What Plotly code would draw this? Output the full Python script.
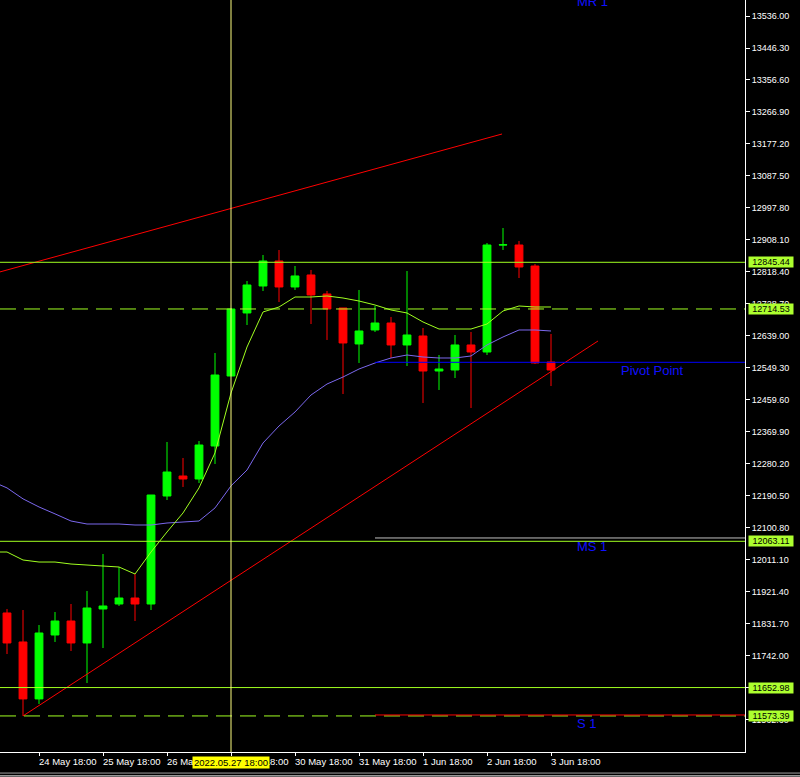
import plotly.graph_objects as go

# H4-style candles, x = bar index
bar_idx = list(range(35))
opens = [11862.1, 11780.8, 11621.1, 11800.4, 11839.6, 11778.0, 11873.3, 11887.3, 11904.1, 11887.3,
         12190.1, 12246.2, 12237.8, 12330.3, 12526.6, 12703.3, 12779.0, 12849.1, 12776.2, 12809.9,
         12756.6, 12717.3, 12616.4, 12655.6, 12675.2, 12613.6, 12638.8, 12540.6, 12543.4, 12613.6,
         12593.9, 12893.9, 12893.9, 12835.0, 12565.9]
highs = [11873.3, 11870.4, 11828.4, 11864.8, 11887.3, 11923.8, 12027.5, 11991.0, 11971.4, 12192.9,
         12341.5, 12296.7, 12344.3, 12591.1, 12714.5, 12793.0, 12865.9, 12879.9, 12835.0, 12823.9,
         12765.0, 12717.3, 12767.8, 12722.9, 12692.1, 12821.0, 12661.2, 12585.5, 12641.6, 12650.0,
         12899.5, 12941.6, 12905.2, 12840.6, 12644.4]
lows = [11747.1, 11573.4, 11607.0, 11780.8, 11755.5, 11665.8, 11763.9, 11881.7, 11839.6, 11870.4,
        12178.9, 12215.4, 12226.6, 12279.9, 12526.6, 12669.6, 12764.9, 12734.1, 12767.8, 12672.4,
        12627.6, 12476.1, 12563.1, 12650.0, 12577.1, 12554.6, 12450.9, 12487.4, 12521.0, 12436.9,
        12585.5, 12880.0, 12801.4, 12560.3, 12498.5]
closes = [11778.0, 11621.1, 11806.0, 11839.6, 11778.0, 11876.1, 11881.7, 11904.1, 11887.3, 12192.9,
          12257.4, 12237.8, 12333.1, 12529.4, 12714.5, 12781.8, 12849.1, 12776.2, 12807.1, 12753.8,
          12714.5, 12619.2, 12652.8, 12675.2, 12613.6, 12641.6, 12540.6, 12546.2, 12613.6, 12593.9,
          12893.9, 12894.5, 12832.2, 12563.1, 12543.4]

# moving averages (start one bar left of the screen)
ma_idx = list(range(-1, 35))
ma_fast = [12033.1, 12033.1, 12010.7, 12005.0, 12005.0, 11999.4, 11996.6, 11993.8, 11991.0, 11971.4,
           12033.1, 12089.2, 12142.5, 12212.8, 12311.0, 12478.9, 12607.9, 12706.1, 12720.1, 12748.1,
           12748.1, 12751.0, 12745.3, 12736.9, 12725.7, 12711.7, 12703.3, 12678.1, 12658.4, 12658.4,
           12658.4, 12672.4, 12708.9, 12722.9, 12720.1, 12720.1]
ma_slow = [12232.2, 12212.8, 12182.1, 12159.4, 12140.0, 12120.0, 12111.6, 12111.6, 12111.6, 12108.8,
           12108.8, 12114.4, 12117.2, 12120.0, 12156.6, 12218.5, 12263.0, 12338.7, 12386.4, 12425.7,
           12473.3, 12504.1, 12523.8, 12546.2, 12563.1, 12577.1, 12585.5, 12579.9, 12577.1, 12577.1,
           12582.7, 12613.6, 12636.0, 12655.6, 12655.6, 12652.8]

# trend lines (bar index, price)
upper_trend_x = [-2, 30.94]
upper_trend_y = [12799.2, 13205.2]
lower_trend_x = [1, 36.94]
lower_trend_y = [11573.4, 12624.8]

# horizontal levels
solid_levels = [12845.44, 12063.11, 11652.98]
dashed_levels = [12714.53, 11573.39]
price_labels = ["12845.44", "12714.53", "12063.11", "11652.98", "11573.39"]
price_label_vals = [12845.44, 12714.53, 12063.11, 11652.98, 11573.39]

# pivot levels (start at bar 23)
pivot_start = 23
pivot_names = ["MR 1", "Pivot Point", "MS 1", "S 1"]
pivot_vals = [13600.0, 12565.0, 12072.4, 11576.1]
pivot_colors = ["#0000E0", "#0000FF", "#C0C0C0", "#FF0000"]
pivot_label_x = [35.5, 38.25, 35.5, 35.5]

# axis
y_ticks = [13536.00 - 89.7 * k for k in range(23)]
day_idx = [-2, 2, 6, 10, 14, 18, 22, 26, 30, 34]
day_labels = ["23 May 18:00", "24 May 18:00", "25 May 18:00", "26 May 18:00", "27 May 18:00",
              "30 May 18:00", "31 May 18:00", "1 Jun 18:00", "2 Jun 18:00", "3 Jun 18:00"]
cursor_idx = 14
cursor_label = "2022.05.27 18:00"

X_RANGE = [-0.4375, 46.125]
Y_RANGE = [11472.3, 13580.9]
LIME = "#A0FF20"
FONT = "Liberation Sans, Arial"

fig = go.Figure()

fig.add_trace(go.Scatter(x=ma_idx, y=ma_slow, mode="lines",
                         line=dict(color="#7B68EE", width=1), hoverinfo="skip"))
fig.add_trace(go.Scatter(x=ma_idx, y=ma_fast, mode="lines",
                         line=dict(color=LIME, width=1), hoverinfo="skip"))
fig.add_trace(go.Scatter(x=upper_trend_x, y=upper_trend_y, mode="lines",
                         line=dict(color="#FF0000", width=1), hoverinfo="skip"))
fig.add_trace(go.Scatter(x=lower_trend_x, y=lower_trend_y, mode="lines",
                         line=dict(color="#FF0000", width=1), hoverinfo="skip"))

fig.add_trace(go.Candlestick(
    x=bar_idx, open=opens, high=highs, low=lows, close=closes,
    increasing=dict(line=dict(color="#00FF00", width=1), fillcolor="#00FF00"),
    decreasing=dict(line=dict(color="#FF0000", width=1), fillcolor="#FF0000"),
))

shapes = []
for lv in solid_levels:
    shapes.append(dict(type="line", xref="paper", x0=0, x1=1, yref="y", y0=lv, y1=lv,
                       line=dict(color=LIME, width=1)))
for lv in dashed_levels:
    shapes.append(dict(type="line", xref="paper", x0=0, x1=1, yref="y", y0=lv, y1=lv,
                       line=dict(color=LIME, width=1, dash="16px,8px")))
for val, col in zip(pivot_vals, pivot_colors):
    shapes.append(dict(type="line", xref="x", x0=pivot_start, x1=X_RANGE[1], yref="y",
                       y0=val, y1=val, line=dict(color=col, width=1)))
# cursor line
shapes.append(dict(type="line", xref="x", x0=cursor_idx, x1=cursor_idx, yref="paper",
                   y0=0, y1=1, line=dict(color="#FFFF80", width=1)))
# window frame under the time scale
shapes.append(dict(type="line", xref="paper", x0=0, x1=1.08, yref="paper", y0=-0.0280, y1=-0.0280,
                   line=dict(color="#A0A0A0", width=1)))
shapes.append(dict(type="line", xref="paper", x0=0, x1=1.08, yref="paper", y0=-0.0318, y1=-0.0318,
                   line=dict(color="#FFFFFF", width=1)))

annotations = []
for name, val, lx in zip(pivot_names, pivot_vals, pivot_label_x):
    # labels use paper y so the one above the visible range (MR 1) is still drawn
    ypaper = (val - Y_RANGE[0]) / (Y_RANGE[1] - Y_RANGE[0])
    annotations.append(dict(x=lx, y=ypaper, xref="x", yref="paper", text=name, showarrow=False,
                            xanchor="left", yanchor="top", yshift=1,
                            font=dict(family=FONT, size=13, color="#1010FF")))
for d, lab in zip(day_idx, day_labels):
    annotations.append(dict(x=d, y=-0.0128, xref="x", yref="paper", text=lab, showarrow=False,
                            xanchor="left", yanchor="middle", xshift=-2,
                            font=dict(family=FONT, size=9.5, color="#FFFFFF")))
annotations.append(dict(x=cursor_idx, y=-0.0140, xref="x", yref="paper", text=cursor_label,
                        showarrow=False, xanchor="center", yanchor="middle", bgcolor="#FFFF00",
                        borderpad=0, width=76,
                        font=dict(family=FONT, size=9.5, color="#000000")))
for lab, val in zip(price_labels, price_label_vals):
    annotations.append(dict(x=1.004, y=val, xref="paper", yref="y", text=lab, showarrow=False,
                            xanchor="left", yanchor="middle", bgcolor="#ADFF2F",
                            borderpad=0, width=44,
                            font=dict(family=FONT, size=9, color="#000000")))

fig.update_layout(
    width=800, height=777,
    margin=dict(l=0, r=55, t=0, b=25, pad=0, autoexpand=False),
    paper_bgcolor="#000000", plot_bgcolor="#000000",
    showlegend=False,
    shapes=shapes, annotations=annotations,
    xaxis=dict(range=X_RANGE, rangeslider=dict(visible=False), showgrid=False, zeroline=False,
               showline=True, linecolor="#FFFFFF", linewidth=1, automargin=False,
               tickvals=day_idx, ticks="outside", ticklen=3, tickcolor="#FFFFFF",
               showticklabels=False),
    yaxis=dict(range=Y_RANGE, side="right", showgrid=False, zeroline=False,
               showline=True, linecolor="#FFFFFF", linewidth=1, automargin=False,
               tickvals=y_ticks, ticktext=["%.2f" % v for v in y_ticks],
               ticks="outside", ticklen=4, tickcolor="#FFFFFF",
               tickfont=dict(family=FONT, size=9, color="#FFFFFF")),
)

# page body has an 8px default margin; remove it so the chart fills the window
fig.write_html("out.html", config={"displayModeBar": False},
               post_script="document.body.style.margin='0';document.body.style.background='#000';")
